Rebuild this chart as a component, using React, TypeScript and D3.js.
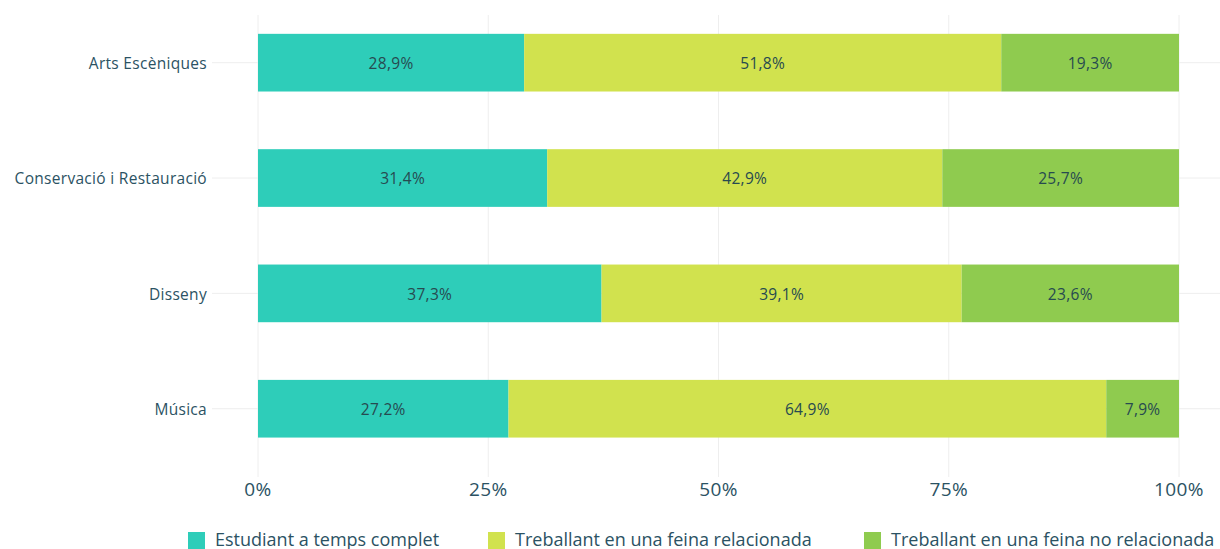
import React from "react";
import * as d3 from "d3";

const categories = ["Arts Escèniques", "Conservació i Restauració", "Disseny", "Música"];
const seriesNames = ["Estudiant a temps complet", "Treballant en una feina relacionada", "Treballant en una feina no relacionada"];
const estudiant = [28.9, 31.4, 37.3, 27.2];
const relacionada = [51.8, 42.9, 39.1, 64.9];
const noRelacionada = [19.3, 25.7, 23.6, 7.9];
const xTicks = [0, 25, 50, 75, 100];
const colors = ["#2ecdb9", "#d1e24e", "#8fcb4f"];

const W = 1220;
const H = 549;
const FONT = "'Open Sans', sans-serif";
const TEXT = "#2b5263";

export default function App() {
  const x = d3.scaleLinear().domain([0, 100]).range([258, 1179]);
  const y = d3.scaleBand<string>().domain(categories).range([5, 466.4]).paddingInner(0.5).paddingOuter(0.25);
  const series = [estudiant, relacionada, noRelacionada];
  const rows = categories.map((c, i) => {
    let acc = 0;
    return series.map((s, k) => {
      const v = s[i];
      const seg = { c, k, v, x0: acc, x1: acc + v };
      acc += v;
      return seg;
    });
  });
  const fmt = (v: number) => v.toFixed(1).replace(".", ",") + "%";
  const legendX = [188, 488, 864];
  const cy = (c: string) => y(c)! + y.bandwidth() / 2;

  return (
    <svg width={W} height={H} style={{ position: "absolute", left: 0, top: 0, background: "#fff" }} fontFamily={FONT}>
      {xTicks.map((t) => (
        <line key={"gx" + t} x1={x(t)} x2={x(t)} y1={15} y2={477} stroke="#eeeeee" strokeWidth={1} />
      ))}
      {categories.map((c) => (
        <line key={"gy" + c} x1={212} x2={W} y1={cy(c)} y2={cy(c)} stroke="#eeeeee" strokeWidth={1} />
      ))}
      {rows.map((r) =>
        r.map((s) => (
          <g key={s.c + s.k}>
            <rect x={x(s.x0)} width={x(s.x1) - x(s.x0)} y={y(s.c)} height={y.bandwidth()} fill={colors[s.k]} />
            <text x={(x(s.x0) + x(s.x1)) / 2} y={cy(s.c) + 1} dy="0.35em" textAnchor="middle" fontSize={15.5} letterSpacing={0.3} fill="#274a50">
              {fmt(s.v)}
            </text>
          </g>
        ))
      )}
      {categories.map((c) => (
        <text key={"cl" + c} x={207} y={cy(c) + 1} dy="0.35em" textAnchor="end" fontSize={15.5} letterSpacing={0.3} fill={TEXT}>
          {c}
        </text>
      ))}
      {xTicks.map((t) => (
        <text key={"xt" + t} x={x(t)} y={489} dy="0.35em" textAnchor="middle" fontSize={19} letterSpacing={0.4} fill={TEXT}>
          {t + "%"}
        </text>
      ))}
      {seriesNames.map((n, k) => (
        <g key={"lg" + k}>
          <rect x={legendX[k]} y={532} width={17} height={17} fill={colors[k]} />
          <text x={legendX[k] + 27} y={546} fontSize={18} fill={TEXT}>
            {n}
          </text>
        </g>
      ))}
    </svg>
  );
}
